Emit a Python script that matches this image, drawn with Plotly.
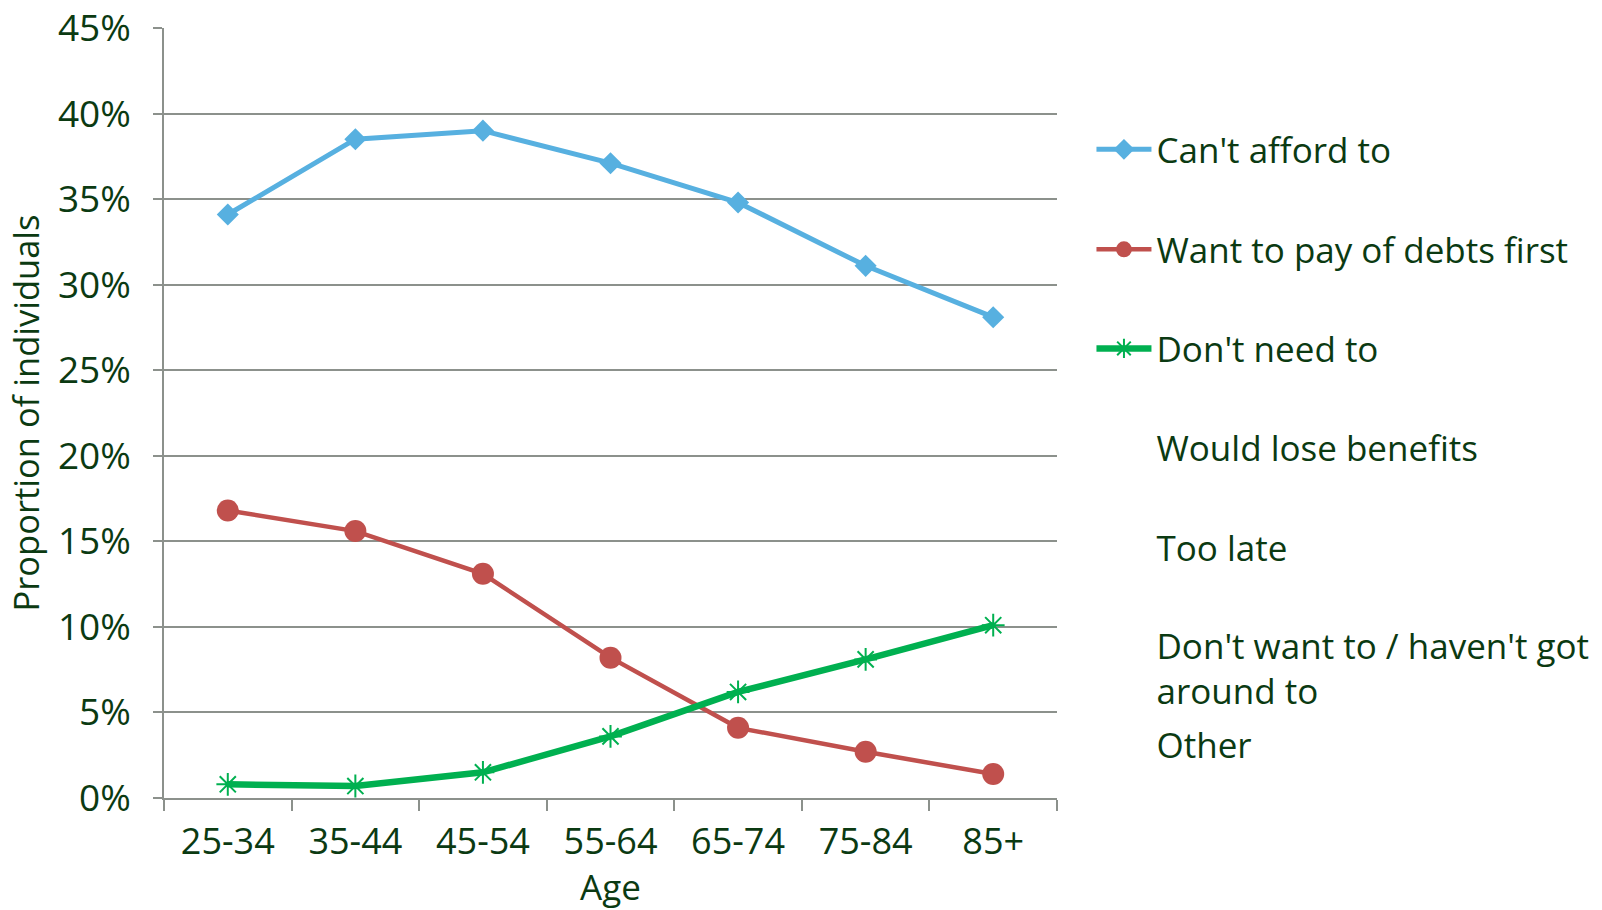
import plotly.graph_objects as go

# Age bands on the x axis
age_bands = ["25-34", "35-44", "45-54", "55-64", "65-74", "75-84", "85+"]

# Share of individuals giving each reason (percent)
cant_afford = [34.1, 38.5, 39.0, 37.1, 34.8, 31.1, 28.1]
pay_debts_first = [16.8, 15.6, 13.1, 8.2, 4.1, 2.7, 1.4]
dont_need = [0.8, 0.7, 1.5, 3.6, 6.2, 8.1, 10.1]

# Reasons listed in the key without a plotted line
unplotted_reasons = [
    "Would lose benefits",
    "Too late",
    "Don't want to / haven't got<br>around to",
    "Other",
]

y_ticks = [0, 5, 10, 15, 20, 25, 30, 35, 40, 45]

TEXT = "#0B3A12"
GRID = "#8C918C"
FONT = "Open Sans"

fig = go.Figure()

fig.add_trace(go.Scatter(
    x=age_bands, y=cant_afford, name="Can't afford to", mode="lines+markers",
    line=dict(color="#57B0E0", width=5),
    marker=dict(symbol="diamond", size=17, color="#57B0E0"),
    legend="legend",
))
fig.add_trace(go.Scatter(
    x=age_bands, y=pay_debts_first, name="Want to pay of debts first", mode="lines+markers",
    line=dict(color="#C0504D", width=4.5),
    marker=dict(symbol="circle", size=22, color="#C0504D"),
    legend="legend2",
))
fig.add_trace(go.Scatter(
    x=age_bands, y=dont_need, name="Don't need to", mode="lines+markers",
    line=dict(color="#00B050", width=6.5),
    marker=dict(symbol="asterisk-open", size=19, color="#00B050",
                line=dict(color="#00B050", width=2)),
    legend="legend3",
))
for i, reason in enumerate(unplotted_reasons):
    fig.add_trace(go.Scatter(
        x=age_bands, y=[None] * len(age_bands), name=reason, mode="lines",
        line=dict(color="rgba(0,0,0,0)", width=0),
        legend=f"legend{i + 4}",
    ))

# Plot area in pixels
L, R, T, B = 163.5, 1057.5, 27.6, 798.0
W, H = 1602, 910
plot_w, plot_h = R - L, B - T


def py(px_y):
    return (B - px_y) / plot_h


ITEM_W = 55
legend_x = (1157 - ITEM_W - 10 - L) / plot_w
legend_rows = [149.2, 249.3, 348.4, 447.5, 547.6, 667.7, 744.8]

legend_common = dict(
    x=legend_x, xanchor="left", yanchor="middle", itemwidth=ITEM_W,
    font=dict(family=FONT, size=35, color=TEXT),
    bgcolor="rgba(0,0,0,0)", borderwidth=0,
)
legends = {}
for i, row in enumerate(legend_rows):
    key = "legend" if i == 0 else f"legend{i + 1}"
    legends[key] = dict(legend_common, y=py(row))

fig.update_layout(
    width=W, height=H,
    margin=dict(l=L, r=W - R, t=T, b=H - B, pad=0, autoexpand=False),
    paper_bgcolor="white", plot_bgcolor="white",
    font=dict(family=FONT, size=35, color=TEXT),
    showlegend=True,
    **legends,
)

fig.update_xaxes(
    type="category", range=[-0.5, 6.5], automargin=False,
    showgrid=False, showline=True, linecolor=GRID, linewidth=1.5,
    ticks="outside", tickson="boundaries", ticklen=11, tickwidth=1.5, tickcolor=GRID,
    tickfont=dict(family=FONT, size=36, color=TEXT), ticklabelstandoff=11,
    title=dict(text="Age", font=dict(family=FONT, size=35, color=TEXT), standoff=8),
    zeroline=False,
)
fig.update_yaxes(
    range=[0, 45], tickvals=y_ticks, ticktext=[f"{v}%" for v in y_ticks], automargin=False,
    showgrid=True, gridcolor=GRID, gridwidth=1.5,
    showline=True, linecolor=GRID, linewidth=1.5,
    ticks="outside", ticklen=9, tickwidth=1.5, tickcolor=GRID,
    tickfont=dict(family=FONT, size=37, color=TEXT), ticklabelstandoff=15,
    title=dict(text="Proportion of individuals", font=dict(family=FONT, size=34.5, color=TEXT), standoff=8),
    zeroline=False,
)

fig.write_html("out.html")
